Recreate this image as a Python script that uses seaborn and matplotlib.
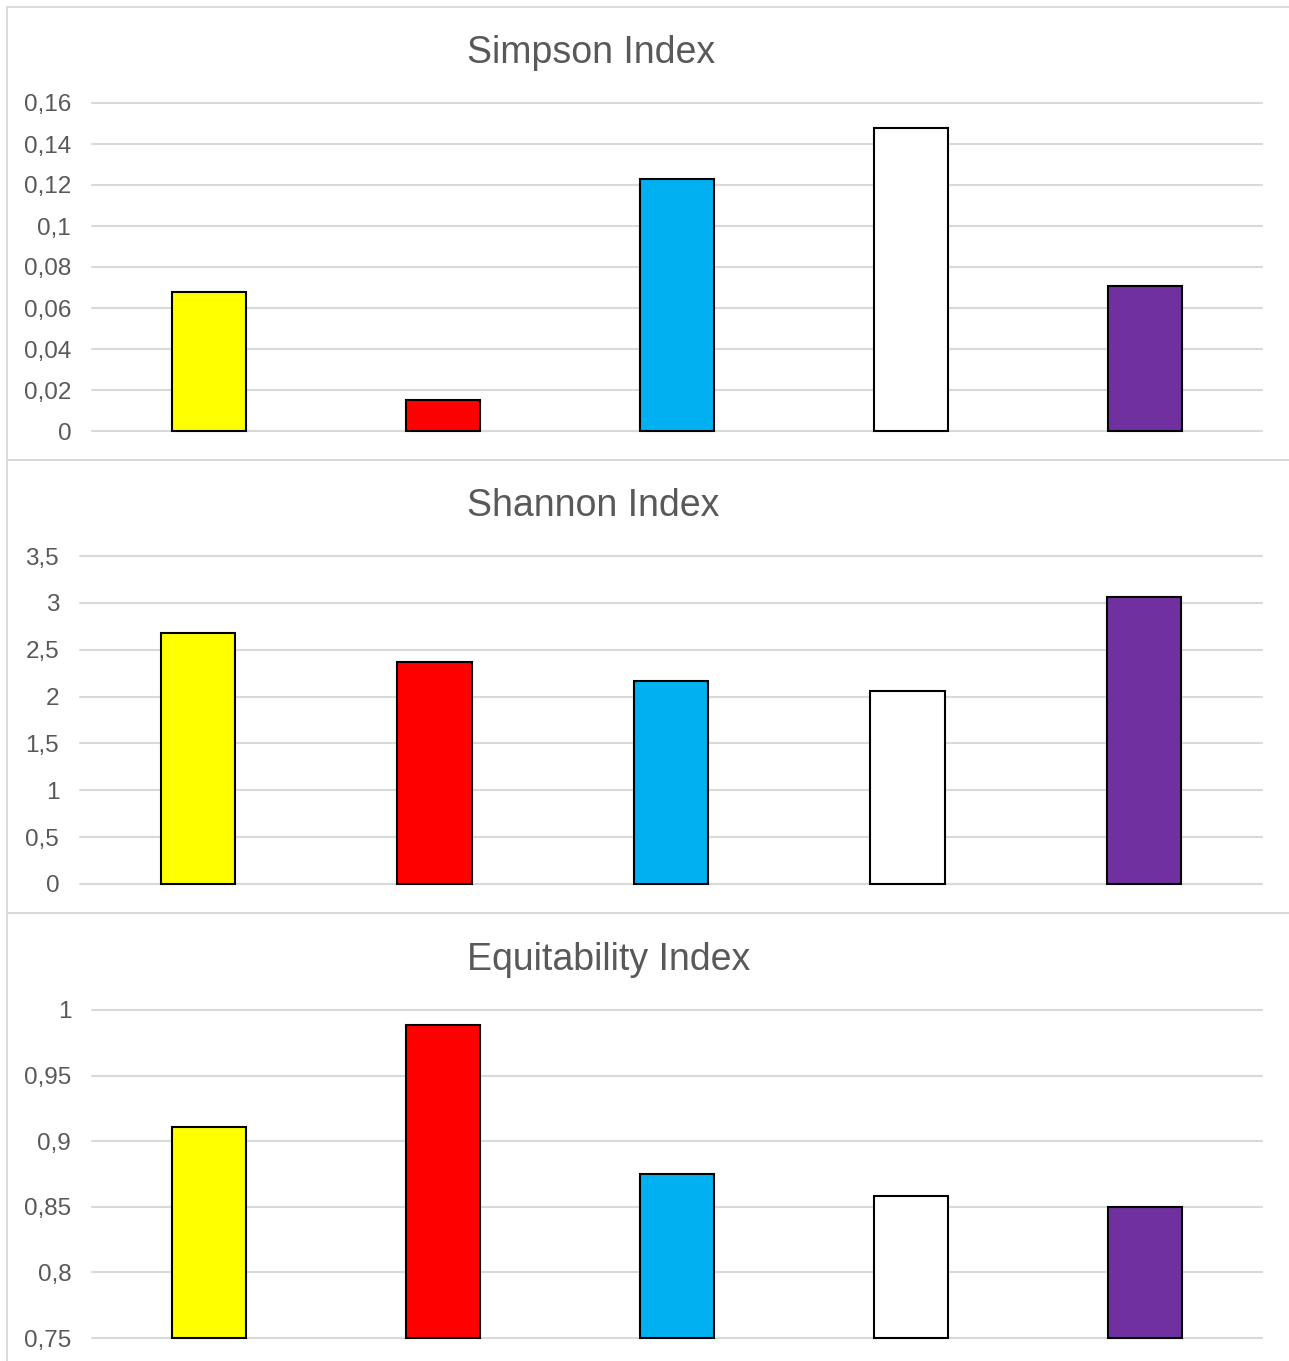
import matplotlib
matplotlib.use("Agg")
import matplotlib.pyplot as plt
from matplotlib.patches import Rectangle
from matplotlib.ticker import MultipleLocator, FuncFormatter
import seaborn as sns
import pandas as pd

sns.set_theme(style="white")
plt.rcParams["font.family"] = ["Liberation Sans", "DejaVu Sans"]

# Diversity indices per sampling site
sites = ["Site 1", "Site 2", "Site 3", "Site 4", "Site 5"]
site_colors = ["#FFFF00", "#FF0000", "#00B0F0", "#FFFFFF", "#7030A0"]
simpson = [0.0678, 0.0151, 0.1229, 0.1478, 0.0707]
shannon = [2.678, 2.369, 2.166, 2.060, 3.063]
equitability = [0.9108, 0.9886, 0.8750, 0.8582, 0.8498]

W, H = 1289, 1361
fig = plt.figure(figsize=(W / 100, H / 100), dpi=100)

GRID = "#D9D9D9"
TEXT = "#595959"


def px_axes(x0, y0, x1, y1):
    return fig.add_axes([x0 / W, 1 - y1 / H, (x1 - x0) / W, (y1 - y0) / H])


# Chart frames
for top in (7, 460, 913):
    fig.patches.append(Rectangle((7 / W, 1 - (top + 453) / H), 1.0, 453 / H,
                                 transform=fig.transFigure, fill=False,
                                 edgecolor=GRID, linewidth=1.3, zorder=0))

panels = [
    ("Simpson Index", simpson, (92, 103, 1262, 431), (0, 0.16), 0.02, (591, 53)),
    ("Shannon Index", shannon, (80, 556, 1262, 884), (0, 3.5), 0.5, (593, 506)),
    ("Equitability Index", equitability, (92, 1010, 1262, 1338), (0.75, 1.0), 0.05, (609, 960)),
]

fmt = FuncFormatter(lambda v, p: f"{v:.6g}".replace(".", ","))

for title, values, box, ylim, step, tpos in panels:
    ax = px_axes(*box)
    df = pd.DataFrame({"site": sites, "value": values})
    sns.barplot(data=df, x="site", y="value", hue="site", palette=site_colors,
                order=sites, hue_order=sites, legend=False, width=0.315,
                saturation=1, edgecolor="black", linewidth=1.5, ax=ax)
    # bars start at the axis floor so the lower outline sits on the baseline
    base = ylim[0]
    for bar in ax.patches:
        top_val = bar.get_y() + bar.get_height()
        bar.set_y(base)
        bar.set_height(top_val - base)
        bar.set_clip_on(False)
    ax.set_ylim(*ylim)
    ax.set_xlim(-0.5, len(sites) - 0.5)
    ax.yaxis.set_major_locator(MultipleLocator(step))
    ax.yaxis.set_major_formatter(fmt)
    ax.grid(axis="y", color=GRID, linewidth=1.5)
    ax.grid(axis="x", visible=False)
    for gl in ax.get_ygridlines():
        gl.set_clip_on(False)
    ax.set_axisbelow(True)
    for s in ax.spines.values():
        s.set_visible(False)
    ax.tick_params(axis="y", length=0, pad=15, labelsize=17.5, labelcolor=TEXT)
    ax.set_xticks([])
    ax.set_xlabel("")
    ax.set_ylabel("")
    ax.patch.set_alpha(0)
    fig.text(tpos[0] / W, 1 - tpos[1] / H, title, ha="center", va="center",
             fontsize=27, color=TEXT)

fig.savefig("out.png", dpi=100)
